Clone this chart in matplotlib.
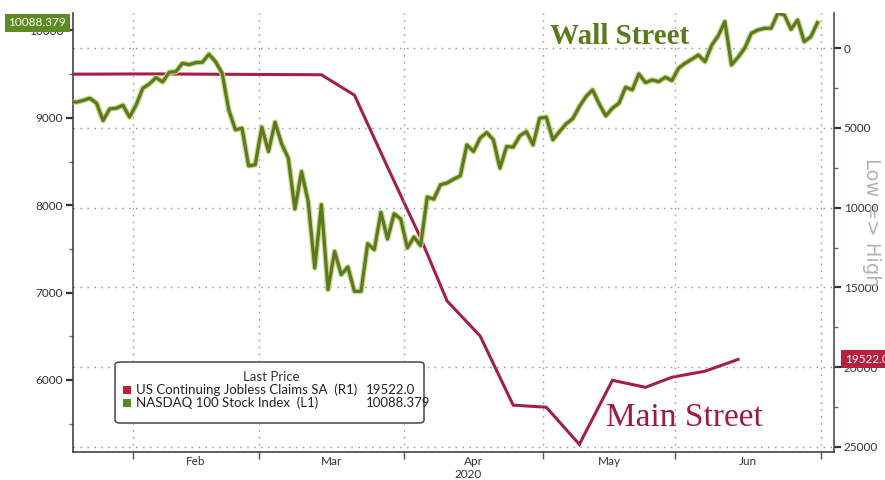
import numpy as np
import pandas as pd
import matplotlib
matplotlib.use("Agg")
import matplotlib.pyplot as plt
import matplotlib.patheffects as pe
from matplotlib.ticker import FixedLocator, MultipleLocator, NullFormatter
from matplotlib.patches import FancyBboxPatch, Rectangle

# ---------------- data ----------------
start_date = "2020-01-17"
end_date = "2020-06-30"
market_holidays = ["2020-01-20", "2020-02-17", "2020-04-10", "2020-05-25"]

# NASDAQ 100 daily closes (one per trading day)
ndx_values = [
    9186, 9180, 9200, 9225, 9168, 8969, 9103, 9111, 9145, 9008,
    9149, 9339, 9389, 9461, 9411, 9522, 9529, 9625, 9609, 9632,
    9636, 9728, 9643, 9511, 9091, 8863, 8882, 8451, 8463, 8894,
    8615, 8950, 8700, 8540, 7957, 8386, 8043, 7282, 8006, 7034,
    7472, 7206, 7294, 7015, 7015, 7560, 7491, 7918, 7614, 7903,
    7842, 7511, 7637, 7537, 8094, 8070, 8234, 8254, 8299, 8337,
    8691, 8615, 8768, 8832, 8749, 8425, 8672, 8665, 8794, 8843,
    8691, 8997, 9008, 8749, 8843, 8931, 8990, 9129, 9243, 9320,
    9160, 9023, 9111, 9168, 9351, 9320, 9503, 9403, 9434, 9415,
    9465, 9426, 9568, 9625, 9671, 9720, 9643, 9830, 9940, 10101,
    9606, 9694, 9797, 9968, 10006, 10025, 10025, 10197, 10177, 10013,
    10120, 9872, 9929, 10088.379,
]

# US continuing jobless claims SA (thousands), weekly
claims_dates = [
    "2020-01-17", "2020-01-24", "2020-01-31", "2020-02-07", "2020-02-14",
    "2020-02-21", "2020-02-28", "2020-03-06", "2020-03-13", "2020-03-20",
    "2020-03-27", "2020-04-03", "2020-04-09", "2020-04-17", "2020-04-24",
    "2020-05-01", "2020-05-08", "2020-05-15", "2020-05-22", "2020-05-29",
    "2020-06-05", "2020-06-12",
]
claims_values = [
    1620, 1620, 1610, 1610, 1620, 1630, 1640, 1650, 1660, 2940,
    7450, 11900, 15850, 18050, 22390, 22520, 24850, 20830, 21270, 20640,
    20260, 19522.0,
]

left_ticks = [6000, 7000, 8000, 9000, 10000]
right_ticks = [0, 5000, 10000, 15000, 20000, 25000]
month_labels = ["Feb", "Mar", "Apr", "May", "Jun"]
year_label = "2020"

legend_title = "Last Price"
claims_name = "US Continuing Jobless Claims SA  (R1)"
ndx_name = "NASDAQ 100 Stock Index  (L1)"

# ---------------- styling ----------------
GREEN = "#5b7a1e"
GREEN_HALO = "#c6d68a"
RED = "#a31f4a"
TXT = "#333333"
GRID = "#a0a0a0"
FONT = "Lato"

W, H = 885, 480
fig = plt.figure(figsize=(W / 100, H / 100), dpi=100)
fig.patch.set_facecolor("white")

def fx(px):
    return px / W

def fy(py):
    return 1 - py / H

ax_l, ax_r, ax_t, ax_b = 73, 834, 13, 452
ax = fig.add_axes([fx(ax_l), fy(ax_b), fx(ax_r - ax_l), (ax_b - ax_t) / H])
ax2 = ax.twinx()
ax.set_zorder(ax2.get_zorder() + 1)
ax.patch.set_visible(False)

# trading-day axis
dates = pd.bdate_range(start_date, end_date, freq="C", holidays=market_holidays)
xi = np.arange(len(dates))
claims_x = dates.get_indexer(pd.to_datetime(claims_dates))

# lines
ax2.plot(claims_x, claims_values, color=RED, lw=2.2, solid_joinstyle="miter",
         zorder=3)
ax.plot(xi, ndx_values, color=GREEN, lw=2.3, zorder=3,
        path_effects=[pe.Stroke(linewidth=4.0, foreground=GREEN_HALO),
                      pe.Normal()])

# limits
ax.set_xlim(0.45, 115.5)
ax.set_ylim(5176, 10200)
ax2.set_ylim(25330, -2215)

# month boundaries
months = dates.month
bounds = [i - 0.5 for i in range(1, len(dates)) if months[i] != months[i - 1]]
bounds.append(len(dates) - 0.5)
mids = [(a + b) / 2 for a, b in zip(bounds[:-1], bounds[1:])]

ax.xaxis.set_major_locator(FixedLocator(bounds))
ax.xaxis.set_major_formatter(NullFormatter())
ax.xaxis.set_minor_locator(FixedLocator(mids))
ax.set_xticklabels(month_labels, minor=True)
ax.tick_params(axis="x", which="major", length=5, width=1.0, color="#555555",
               direction="out")
ax.tick_params(axis="x", which="minor", length=0, pad=3, labelsize=8.5,
               labelcolor=TXT)

# left axis
ax.yaxis.set_major_locator(FixedLocator(left_ticks))
ax.yaxis.set_minor_locator(MultipleLocator(500))
ax.tick_params(axis="y", which="major", length=5, width=1.6, color="#333333",
               labelsize=8.5, labelcolor=TXT, pad=2)
ax.tick_params(axis="y", which="minor", length=3, width=1.0, color="#666666")

# right axis
ax2.yaxis.set_major_locator(FixedLocator(right_ticks))
ax2.yaxis.set_minor_locator(MultipleLocator(2500))
ax2.tick_params(axis="y", which="major", length=5, width=1.6, color="#333333",
                labelsize=8.5, labelcolor=TXT, pad=2)
ax2.tick_params(axis="y", which="minor", length=3, width=1.0, color="#666666")

for lab in ax.get_xticklabels(minor=True) + ax.get_yticklabels() + ax2.get_yticklabels():
    lab.set_fontfamily(FONT)

# grids
ax.grid(axis="x", which="major", color=GRID, lw=1.0, ls=(0, (1.2, 3.8)))
ax2.grid(axis="y", which="major", color=GRID, lw=1.0, ls=(0, (1.2, 3.8)))

# spines
for s in ["top", "right"]:
    ax.spines[s].set_visible(False)
ax.spines["left"].set_color("#444444")
ax.spines["bottom"].set_color("#444444")
ax.spines["left"].set_linewidth(1.2)
ax.spines["bottom"].set_linewidth(1.2)
for s in ["top", "left", "bottom"]:
    ax2.spines[s].set_visible(False)
ax2.spines["right"].set_color("#5a4a55")
ax2.spines["right"].set_linewidth(1.2)

# last-value tags
ax.annotate(f"{ndx_values[-1]:.3f}", xy=(0, ndx_values[-1]),
            xycoords=("axes fraction", "data"), xytext=(-7, 0),
            textcoords="offset pixels", ha="right", va="center",
            color="white", fontsize=8.5, fontfamily=FONT,
            bbox=dict(boxstyle="square,pad=0.3", fc="#5e8a22", ec="none"),
            annotation_clip=False, zorder=20)
ax2.annotate(f"{claims_values[-1]:.1f}", xy=(1, claims_values[-1]),
             xycoords=("axes fraction", "data"), xytext=(11, 0),
             textcoords="offset pixels", ha="left", va="center",
             color="white", fontsize=8.5, fontfamily=FONT,
             bbox=dict(boxstyle="square,pad=0.3", fc="#b5213f", ec="none"),
             annotation_clip=False, zorder=20)

# annotations
fig.text(fx(620), fy(37), "Wall Street", ha="center", va="center",
         fontsize=21, fontweight="bold", color="#5a7a1e",
         fontfamily="Liberation Serif", zorder=10)
fig.text(fx(684), fy(418), "Main Street", ha="center", va="center",
         fontsize=24, color="#9e1b3f", fontfamily="Liberation Serif",
         zorder=10)
fig.text(fx(871), fy(222), "Low => High", rotation=270, ha="center",
         va="center", fontsize=14, color="#b3b3b3", fontfamily="DejaVu Sans")
fig.text(fx(468), fy(475), year_label, ha="center", va="center",
         fontsize=8.5, color=TXT, fontfamily=FONT)

# legend box
lb_x0, lb_y0, lb_x1, lb_y1 = 115, 362, 424, 423
box = FancyBboxPatch((fx(lb_x0), fy(lb_y1)), fx(lb_x1 - lb_x0),
                     (lb_y1 - lb_y0) / H,
                     boxstyle="round,pad=0,rounding_size=0.006",
                     transform=fig.transFigure, fc="white", ec="#555555",
                     lw=1.2, zorder=30)
fig.add_artist(box)
fig.text(fx(271), fy(377), legend_title, ha="center", va="center",
         fontsize=9.5, color=TXT, fontfamily=FONT, zorder=31)
rows = [(claims_name, f"{claims_values[-1]:.1f}", "#c0203a", 390),
        (ndx_name, f"{ndx_values[-1]:.3f}", "#5a8a1e", 403)]
for name, val, col, py in rows:
    sq = Rectangle((fx(123), fy(py + 4)), fx(8), 8 / H,
                   transform=fig.transFigure, fc=col, ec="none", zorder=31)
    fig.add_artist(sq)
    fig.text(fx(136), fy(py), name, ha="left", va="center", fontsize=9.5,
             color="#222222", fontfamily=FONT, zorder=31)
    fig.text(fx(366), fy(py), val, ha="left", va="center", fontsize=9.5,
             color="#222222", fontfamily=FONT, zorder=31)

fig.savefig("out.png", dpi=100, facecolor="white")
